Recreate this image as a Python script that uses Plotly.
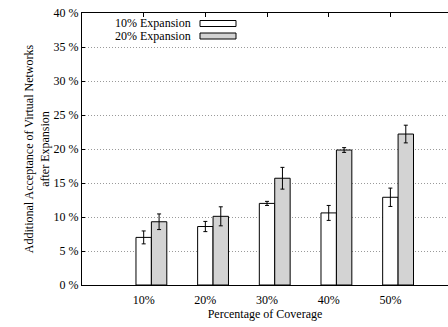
import plotly.graph_objects as go

# Coverage levels and measured additional acceptance (%) with error margins
coverage = ["10%", "20%", "30%", "40%", "50%"]
positions = [1, 2, 3, 4, 5]
exp10 = [7.0, 8.6, 12.0, 10.6, 12.9]
exp10_err = [0.95, 0.75, 0.3, 1.1, 1.35]
exp20 = [9.3, 10.1, 15.7, 19.85, 22.2]
exp20_err = [1.15, 1.4, 1.6, 0.35, 1.3]
series_names = ["10% Expansion", "20% Expansion"]
series_colors = ["white", "#d3d3d3"]

W, H = 448, 327
ML, MR, MT, MB = 82, 0, 13, 42
plot_w = W - ML - MR
plot_h = H - MT - MB
unit = 61.675  # pixels per category step
x_max = plot_w / unit

FONT = "'Liberation Serif', 'Times New Roman', Times, serif"

fig = go.Figure()
err_style = dict(type="data", color="black", thickness=1, width=2)
fig.add_trace(go.Bar(
    x=positions, y=exp10, width=0.25, offset=-0.125,
    marker=dict(color=series_colors[0], line=dict(color="black", width=1)),
    error_y=dict(array=exp10_err, **err_style),
    name=series_names[0], showlegend=False,
))
fig.add_trace(go.Bar(
    x=positions, y=exp20, width=0.25, offset=0.125,
    marker=dict(color=series_colors[1], line=dict(color="black", width=1)),
    error_y=dict(array=exp20_err, **err_style),
    name=series_names[1], showlegend=False,
))

# Legend: right-aligned labels with sample boxes to their right
def px_x(px):
    return (px - ML) / plot_w

def px_y(py):
    return (MT + plot_h - py) / plot_h

legend_rows = [23.5, 36]
for name, color, yc in zip(series_names, series_colors, legend_rows):
    fig.add_annotation(
        text=name, xref="paper", yref="paper", x=px_x(193), y=px_y(yc),
        xanchor="right", yanchor="middle", showarrow=False,
        font=dict(family=FONT, size=12, color="black"),
    )
    fig.add_shape(
        type="rect", xref="paper", yref="paper",
        x0=px_x(200), x1=px_x(236), y0=px_y(yc + 3), y1=px_y(yc - 3),
        fillcolor=color, line=dict(color="black", width=1),
    )

fig.update_layout(
    width=W, height=H,
    margin=dict(l=ML, r=MR, t=MT, b=MB),
    paper_bgcolor="white", plot_bgcolor="white",
    font=dict(family=FONT, size=12, color="black"),
    barmode="overlay",
    xaxis=dict(
        range=[0, x_max], tickvals=positions, ticktext=coverage,
        showgrid=False, zeroline=False, showline=True, linecolor="black",
        linewidth=1, ticks="", ticklabelstandoff=4,
        tickfont=dict(family=FONT, size=12),
        title=dict(text="Percentage of Coverage", font=dict(family=FONT, size=12), standoff=3),
    ),
    xaxis2=dict(
        overlaying="x", matches="x", side="top", range=[0, x_max],
        tickvals=positions, showticklabels=False, ticks="inside", ticklen=4,
        tickcolor="black", showgrid=False, zeroline=False, showline=True,
        linecolor="black", linewidth=1,
    ),
    yaxis=dict(
        range=[0, 40], dtick=5, ticksuffix=" %", ticks="inside", ticklen=3,
        tickcolor="black", showline=True, linecolor="black", linewidth=1,
        zeroline=False, showgrid=True, gridcolor="#9a9a9a", griddash="1px,2px",
        gridwidth=1, tickfont=dict(family=FONT, size=12),
        title=dict(text="Additional Acceptance of Virtual Networks<br>after Expansion",
                   font=dict(family=FONT, size=12), standoff=1),
    ),
)
# Anchor trace for the top axis so its ticks are drawn
fig.add_trace(go.Scatter(x=[None], y=[None], xaxis="x2", showlegend=False))

fig.write_html("out.html")
